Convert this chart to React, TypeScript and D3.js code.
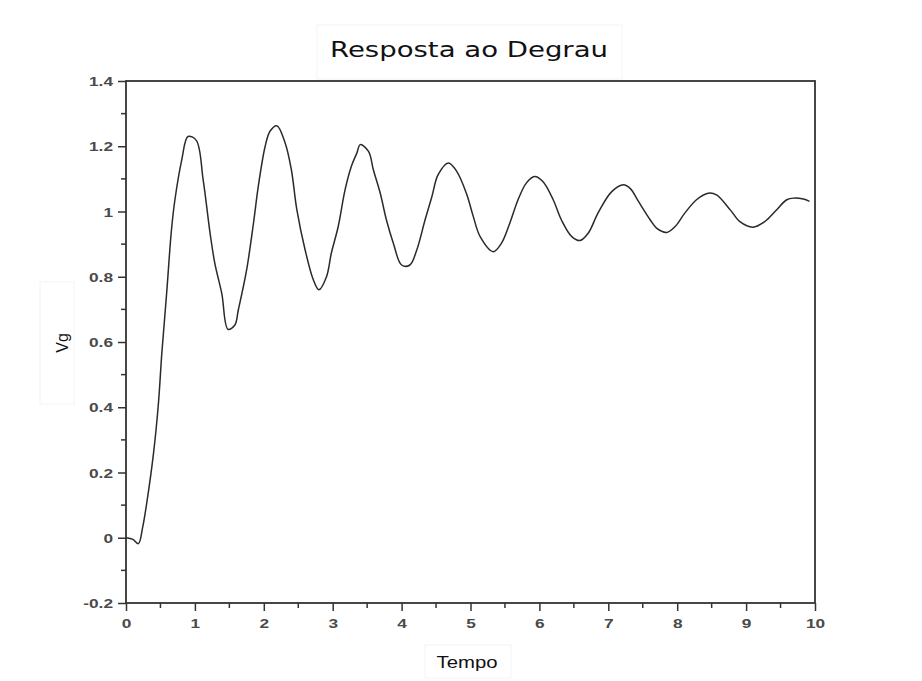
import * as d3 from 'd3';
import {useEffect, useRef} from 'react';

const width = 922;
const height = 681;

// Resposta ao degrau
const tempo = [
  0, 0.1, 0.18, 0.24, 0.3, 0.4, 0.47, 0.52, 0.59, 0.66, 0.71, 0.81, 0.9, 1.02,
  1.12, 1.22, 1.29, 1.39, 1.48, 1.58, 1.63, 1.75, 1.85, 1.92, 2.02, 2.09, 2.19,
  2.31, 2.4, 2.48, 2.6, 2.72, 2.8, 2.91, 2.98, 3.08, 3.18, 3.27, 3.35, 3.4,
  3.52, 3.59, 3.69, 3.78, 3.88, 4.0, 4.12, 4.22, 4.34, 4.44, 4.53, 4.68, 4.8,
  4.94, 5.04, 5.14, 5.33, 5.45, 5.57, 5.69, 5.81, 5.93, 6.05, 6.2, 6.32, 6.47,
  6.59, 6.71, 6.85, 7.05, 7.22, 7.32, 7.44, 7.61, 7.7, 7.85, 7.97, 8.11, 8.28,
  8.45, 8.57, 8.77, 8.91, 9.1, 9.27, 9.42, 9.59, 9.69, 9.83, 9.92,
];
const vg = [
  0, -0.005, -0.018, 0.03, 0.105, 0.26, 0.41, 0.566, 0.75, 0.944, 1.036, 1.159,
  1.23, 1.218, 1.097, 0.934, 0.84, 0.749, 0.639, 0.652, 0.698, 0.82, 0.964,
  1.077, 1.2, 1.246, 1.263, 1.21, 1.128, 1.005, 0.882, 0.79, 0.76, 0.8, 0.872,
  0.954, 1.067, 1.138, 1.179, 1.205, 1.184, 1.128, 1.056, 0.974, 0.903, 0.836,
  0.836, 0.882, 0.974, 1.046, 1.113, 1.149, 1.123, 1.056, 0.985, 0.923, 0.877,
  0.903, 0.964, 1.036, 1.087, 1.107, 1.092, 1.036, 0.974, 0.923, 0.911, 0.934,
  0.995, 1.061, 1.082, 1.07, 1.03, 0.974, 0.949, 0.936, 0.954, 0.995, 1.036,
  1.056, 1.051, 1.005, 0.969, 0.952, 0.969, 1.0, 1.036, 1.041, 1.038, 1.031,
];
const xTicks = [0, 1, 2, 3, 4, 5, 6, 7, 8, 9, 10];
const yTicks = [-0.2, 0, 0.2, 0.4, 0.6, 0.8, 1, 1.2, 1.4];
const yLabels = ['-0.2', '0', '0.2', '0.4', '0.6', '0.8', '1', '1.2', '1.4'];

const left = 126;
const right = 815;
const top = 81;
const bottom = 603;
const stretch = 1.28;

function App() {
  const ref = useRef<SVGSVGElement>(null);

  useEffect(() => {
    const svg = d3.select(ref.current);
    svg.selectAll('*').remove();

    const x = d3.scaleLinear().domain([0, 10]).range([left, right]);
    const y = d3.scaleLinear().domain([-0.2, 1.4]).range([bottom, top]);

    // caixas claras em volta dos rótulos
    const faint = '#f3f3f3';
    svg.append('rect').attr('x', 317).attr('y', 25).attr('width', 305).attr('height', 54)
      .attr('fill', 'none').attr('stroke', faint);
    svg.append('rect').attr('x', 425).attr('y', 645).attr('width', 86).attr('height', 33)
      .attr('fill', 'none').attr('stroke', faint);
    svg.append('rect').attr('x', 40).attr('y', 282).attr('width', 34).attr('height', 122)
      .attr('fill', 'none').attr('stroke', faint);

    const axisColor = '#333';

    // marcas menores
    const xMinor = xTicks.slice(0, -1).map(d => d + 0.5);
    const yMinor = yTicks.slice(0, -1).map(d => d + 0.1);

    const gx = svg.append('g').attr('transform', `translate(0, ${bottom})`);
    gx.call(
      d3.axisBottom(x).tickValues(xTicks).tickSize(8).tickSizeOuter(0).tickFormat(d3.format('d'))
    );
    gx.append('g').selectAll('line').data(xMinor).join('line')
      .attr('x1', d => x(d)).attr('x2', d => x(d)).attr('y1', 0).attr('y2', 5)
      .attr('stroke', axisColor).attr('stroke-width', 1.5);

    const gy = svg.append('g').attr('transform', `translate(${left}, 0)`);
    gy.call(
      d3.axisLeft(y).tickValues(yTicks).tickSize(8).tickSizeOuter(0)
        .tickFormat((d, i) => yLabels[i])
    );
    gy.append('g').selectAll('line').data(yMinor).join('line')
      .attr('x1', 0).attr('x2', -5).attr('y1', d => y(d)).attr('y2', d => y(d))
      .attr('stroke', axisColor).attr('stroke-width', 1.5);

    [gx, gy].forEach(g => {
      g.select('.domain').remove();
      g.selectAll('.tick line').attr('stroke', axisColor).attr('stroke-width', 1.5);
      g.selectAll('.tick text')
        .attr('fill', '#4a4a4a')
        .style('font-family', '"Liberation Sans", Arial, sans-serif')
        .style('font-size', '13.5px')
        .style('font-weight', 'bold');
    });
    gx.selectAll('.tick').each(function () {
      const t = d3.select(this);
      const m = /translate\(([-\d.]+)/.exec(t.attr('transform') || '');
      const tx = m ? +m[1] : 0;
      t.attr('transform', `translate(${tx},0)`);
    });
    gx.selectAll('.tick text').attr('y', 15).attr('dy', '0.71em').attr('x', 0)
      .attr('transform', `scale(${stretch},1)`);
    gy.selectAll('.tick text').attr('x', -13 / stretch).attr('dy', '0.35em')
      .attr('transform', `scale(${stretch},1)`);

    // moldura
    svg.append('rect')
      .attr('x', left).attr('y', top)
      .attr('width', right - left).attr('height', bottom - top)
      .attr('fill', 'none').attr('stroke', axisColor).attr('stroke-width', 1.8);

    // curva
    const pts = tempo.map((t, i) => [t, vg[i]] as [number, number]);
    const line = d3.line<[number, number]>()
      .x(d => x(d[0])).y(d => y(d[1]))
      .curve(d3.curveCatmullRom.alpha(0.5));
    svg.append('path')
      .datum(pts)
      .attr('fill', 'none')
      .attr('stroke', '#2a2a2a')
      .attr('stroke-width', 1.5)
      .attr('stroke-linejoin', 'round')
      .attr('d', line);

    // textos
    svg.append('text')
      .attr('x', 469).attr('y', 57)
      .attr('text-anchor', 'middle')
      .attr('textLength', 278).attr('lengthAdjust', 'spacingAndGlyphs')
      .style('font-family', '"DejaVu Sans", sans-serif')
      .style('font-size', '21px')
      .attr('fill', '#111')
      .text('Resposta ao Degrau');

    svg.append('text')
      .attr('x', 467).attr('y', 668)
      .attr('text-anchor', 'middle')
      .attr('textLength', 61).attr('lengthAdjust', 'spacingAndGlyphs')
      .style('font-family', '"Liberation Sans", Arial, sans-serif')
      .style('font-size', '17px')
      .attr('fill', '#111')
      .text('Tempo');

    svg.append('text')
      .attr('transform', 'translate(68, 343) rotate(-90)')
      .attr('text-anchor', 'middle')
      .style('font-family', '"Liberation Sans", Arial, sans-serif')
      .style('font-size', '16px')
      .attr('fill', '#111')
      .text('Vg');
  }, []);

  return (
    <svg
      ref={ref}
      width={width}
      height={height}
      style={{position: 'absolute', left: 0, top: 0, background: '#fff'}}
    />
  );
}

export default App;
